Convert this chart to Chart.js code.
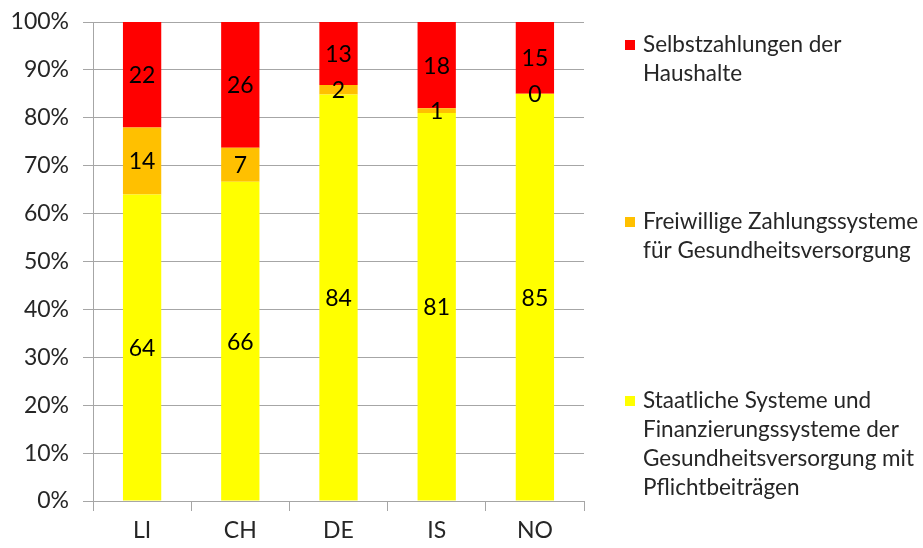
<!DOCTYPE html>
<html>
<head>
<meta charset="utf-8">
<script src="https://cdn.jsdelivr.net/npm/chart.js@4/dist/chart.umd.min.js"></script>
<style>
    html, body { margin: 0; padding: 0; background: #fff; }
    .chart-wrapper { position: relative; width: 923px; height: 548px; }
</style>
</head>
<body>
<div class="chart-wrapper">
    <canvas id="finance-chart"></canvas>
</div>

<script>(function() { "use strict";

    var countries = ['LI', 'CH', 'DE', 'IS', 'NO'];

    // Anteile in % (wie beschriftet)
    var staatlich = [64, 66, 84, 81, 85];
    var freiwillig = [14, 7, 2, 1, 0];
    var selbst = [22, 26, 13, 18, 15];

    var series_names = [
        'Staatliche Systeme und Finanzierungssysteme der Gesundheitsversorgung mit Pflichtbeiträgen',
        'Freiwillige Zahlungssysteme für Gesundheitsversorgung',
        'Selbstzahlungen der Haushalte'
    ];
    // Legende: Zeilenumbruch wie im Original, von oben nach unten
    var legend_lines = [
        ['Selbstzahlungen der', 'Haushalte'],
        ['Freiwillige Zahlungssysteme', 'für Gesundheitsversorgung'],
        ['Staatliche Systeme und', 'Finanzierungssysteme der', 'Gesundheitsversorgung mit', 'Pflichtbeiträgen']
    ];
    var series_colors = ['#ffff00', '#ffc000', '#ff0000'];

    var font_family = 'Lato, "Open Sans", sans-serif';
    var text_color = '#262626';
    var grid_color = '#a6a6a6';

    var raw_series = [staatlich, freiwillig, selbst];

    // 100%-gestapelt: jede Säule auf ihre Summe normieren
    var totals = countries.map(function(c, i) {
        return staatlich[i] + freiwillig[i] + selbst[i];
    });

    var datasets = raw_series.map(function(values, k) {
        return {
            label: series_names[k],
            data: values.map(function(v, i) { return v / totals[i] * 100; }),
            rawValues: values,
            backgroundColor: series_colors[k],
            borderWidth: 0,
            barPercentage: 0.39,
            categoryPercentage: 1
        };
    });

    var valueLabels = {
        id: 'valueLabels',
        afterDatasetsDraw: function(chart) {
            var ctx = chart.ctx;
            ctx.save();
            ctx.font = '23px ' + font_family;
            ctx.fillStyle = '#000';
            ctx.textAlign = 'center';
            ctx.textBaseline = 'middle';
            chart.data.datasets.forEach(function(ds, k) {
                var meta = chart.getDatasetMeta(k);
                meta.data.forEach(function(bar, i) {
                    var y = (bar.y + bar.base) / 2;
                    ctx.fillText(String(ds.rawValues[i]), bar.x, y + 1);
                });
            });
            ctx.restore();
        }
    };

    var sideLegend = {
        id: 'sideLegend',
        afterDraw: function(chart) {
            var ctx = chart.ctx;
            var line_h = 29;
            var first_y = [45, 222, 401];
            var colors = series_colors.slice().reverse();
            ctx.save();
            ctx.font = '22.5px ' + font_family;
            ctx.textAlign = 'left';
            ctx.textBaseline = 'middle';
            legend_lines.forEach(function(lines, k) {
                ctx.fillStyle = colors[k];
                ctx.fillRect(625, first_y[k] - 5, 10, 10);
                ctx.fillStyle = text_color;
                lines.forEach(function(t, j) {
                    ctx.fillText(t, 643, first_y[k] + j * line_h);
                });
            });
            ctx.restore();
        }
    };

    new Chart(document.getElementById('finance-chart'), {
        type: 'bar',
        data: { labels: countries, datasets: datasets },
        options: {
            responsive: true,
            maintainAspectRatio: false,
            animation: false,
            layout: { padding: { top: 22, right: 339, left: 0, bottom: 0 } },
            plugins: {
                legend: { display: false },
                tooltip: { enabled: false }
            },
            scales: {
                x: {
                    stacked: true,
                    afterFit: function(s) { s.height = 47; },
                    grid: {
                        offset: true,
                        drawOnChartArea: false,
                        drawTicks: true,
                        tickLength: 10,
                        color: grid_color
                    },
                    border: { color: grid_color },
                    ticks: {
                        color: text_color,
                        padding: 6,
                        font: { family: font_family, size: 23 }
                    }
                },
                y: {
                    stacked: true,
                    min: 0,
                    max: 100,
                    afterFit: function(s) {
                        s.width = 93;
                        s.paddingTop = 0;
                        s.paddingBottom = 0;
                    },
                    grid: {
                        color: grid_color,
                        tickLength: 10
                    },
                    border: { color: grid_color },
                    ticks: {
                        stepSize: 10,
                        padding: 14,
                        color: text_color,
                        font: { family: font_family, size: 23 },
                        callback: function(v) { return v + '%'; }
                    }
                }
            }
        },
        plugins: [valueLabels, sideLegend]
    });

})();</script>
</body>
</html>
